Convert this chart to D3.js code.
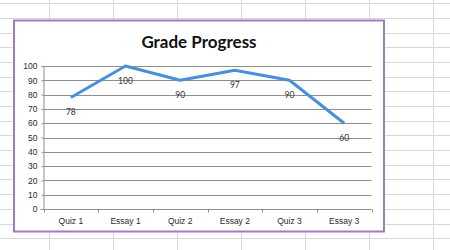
<!DOCTYPE html>
<html>
<head>
<meta charset="utf-8">
<script src="https://cdn.jsdelivr.net/npm/d3@7"></script>
<style>
    body { margin: 0; background: #fff; }
    svg { display: block; font-family: Lato, 'Open Sans', sans-serif; }
</style>
</head>
<body>
<script>
(function () {

    'use strict'

    const categories = ['Quiz 1', 'Essay 1', 'Quiz 2', 'Essay 2', 'Quiz 3', 'Essay 3']
    const grades = [78, 100, 90, 97, 90, 60]
    const yTicks = [0, 10, 20, 30, 40, 50, 60, 70, 80, 90, 100]
    const title = 'Grade Progress'

    const width = 450
        , height = 250
        , plot = { left: 43.5, right: 371.5, top: 66, bottom: 209 }

    const svg = d3.select('body')
        .append('svg')
        .attr('width', width)
        .attr('height', height)

    // spreadsheet cells behind the chart
    const sheet = svg.append('g').attr('stroke', '#d8d8d8').attr('stroke-width', 1)
    sheet.selectAll('.row')
        .data(d3.range(0, 17))
        .enter()
        .append('line')
        .attr('x1', 0)
        .attr('x2', width)
        .attr('y1', k => Math.round(3.3 + 14.68 * k) + 0.5)
        .attr('y2', k => Math.round(3.3 + 14.68 * k) + 0.5)
    sheet.selectAll('.col')
        .data(d3.range(0, 7))
        .enter()
        .append('line')
        .attr('y1', 0)
        .attr('y2', height)
        .attr('x1', k => Math.round(49 + 64 * k) + 0.5)
        .attr('x2', k => Math.round(49 + 64 * k) + 0.5)

    // chart frame
    svg.append('rect')
        .attr('x', 14)
        .attr('y', 20.5)
        .attr('width', 370)
        .attr('height', 211)
        .attr('fill', '#fff')
        .attr('stroke', '#a07cc5')
        .attr('stroke-width', 2)

    svg.append('text')
        .attr('x', 199)
        .attr('y', 47.5)
        .attr('text-anchor', 'middle')
        .attr('font-size', 17)
        .attr('font-weight', 'bold')
        .attr('fill', '#111')
        .text(title)

    const xScale = d3.scaleBand()
        .domain(categories)
        .range([plot.left, plot.right])

    const yScale = d3.scaleLinear()
        .domain([0, 100])
        .range([plot.bottom, plot.top])

    // horizontal gridlines
    svg.append('g')
        .selectAll('line')
        .data(yTicks.slice(1))
        .enter()
        .append('line')
        .attr('x1', plot.left)
        .attr('x2', plot.right)
        .attr('y1', d => Math.round(yScale(d)) + 0.5)
        .attr('y2', d => Math.round(yScale(d)) + 0.5)
        .attr('stroke', '#8e8e8e')

    // y axis
    const yAxis = svg.append('g')
        .attr('transform', 'translate(' + plot.left + ',0)')
        .call(d3.axisLeft(yScale).tickValues(yTicks).tickSize(2).tickPadding(4))
    yAxis.selectAll('line, path').attr('stroke', '#8e8e8e')
    yAxis.select('.domain').attr('d', 'M0.5,' + plot.top + 'V' + (plot.bottom + 0.5))
    yAxis.selectAll('text').attr('font-size', 8.5).attr('fill', '#2a2a2a').attr('font-family', null)

    // x axis, ticks between categories
    const xAxis = svg.append('g')
        .attr('transform', 'translate(0,' + (Math.round(plot.bottom) + 0.5) + ')')
        .call(d3.axisBottom(xScale).tickSize(0).tickPadding(8))
    xAxis.select('.domain').attr('stroke', '#8e8e8e').attr('d', 'M' + (plot.left - 3) + ',0H' + plot.right)
    xAxis.selectAll('text').attr('font-size', 8.5).attr('fill', '#2a2a2a').attr('font-family', null)
    xAxis.selectAll('.sep')
        .data(categories.concat(['end']))
        .enter()
        .append('line')
        .attr('x1', (d, i) => Math.round(plot.left + i * xScale.step()) + 0.5)
        .attr('x2', (d, i) => Math.round(plot.left + i * xScale.step()) + 0.5)
        .attr('y1', 0)
        .attr('y2', 3)
        .attr('stroke', '#8e8e8e')

    const cx = d => xScale(d.c) + xScale.bandwidth() / 2
    const points = categories.map((c, i) => ({ c: c, v: grades[i] }))

    const line = d3.line()
        .x(cx)
        .y(d => yScale(d.v))

    svg.append('path')
        .datum(points)
        .attr('d', line)
        .attr('fill', 'none')
        .attr('stroke', '#4a90d9')
        .attr('stroke-width', 3)
        .attr('stroke-linejoin', 'round')

    // data labels under each point
    svg.selectAll('.dl')
        .data(points)
        .enter()
        .append('text')
        .attr('x', cx)
        .attr('y', d => yScale(d.v) + 18)
        .attr('text-anchor', 'middle')
        .attr('font-size', 8.5)
        .attr('fill', '#333')
        .text(d => d.v)
})()
</script>
</body>
</html>
